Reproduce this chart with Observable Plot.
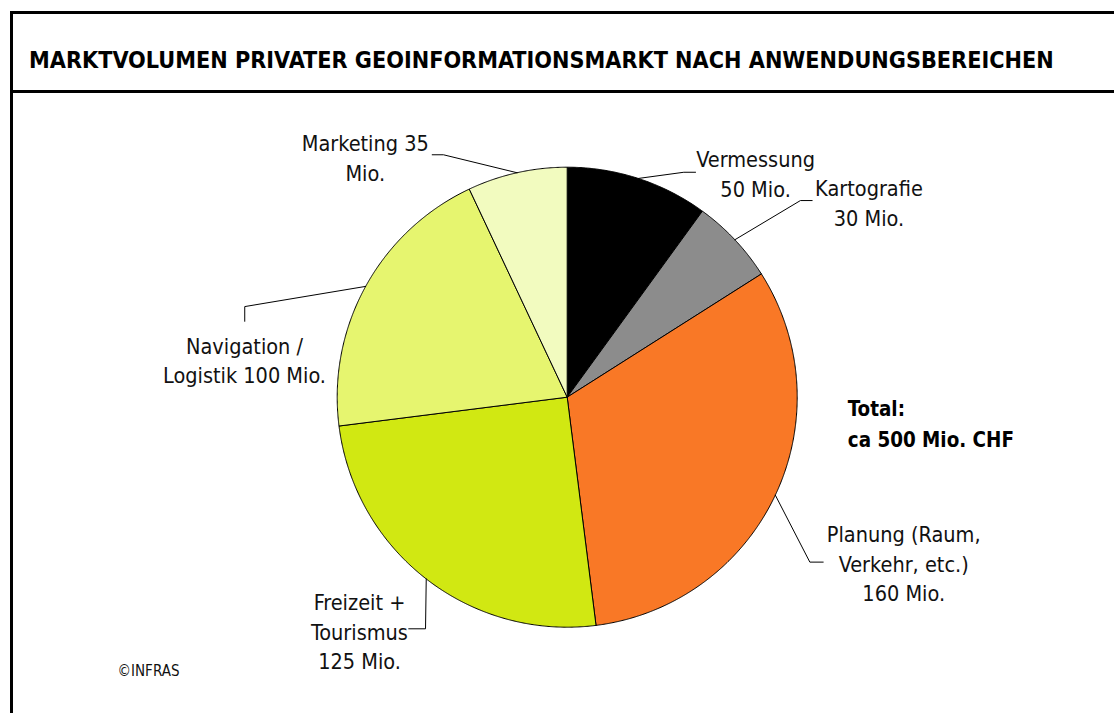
<!DOCTYPE html>
<html><head><meta charset="utf-8">
<script src="https://cdn.jsdelivr.net/npm/d3@7"></script>
<script src="https://cdn.jsdelivr.net/npm/@observablehq/plot@0.6"></script>
<style>
html,body{margin:0;padding:0;background:#fff;}
body{width:1114px;height:713px;overflow:hidden;position:relative;font-family:"DejaVu Sans Condensed","DejaVu Sans",sans-serif;font-stretch:condensed;}
#frame{position:absolute;left:10px;top:11px;right:0;bottom:0;border-top:3px solid #000;border-left:3px solid #000;}
#title{height:42px;padding:34px 0 0 16px;border-bottom:3px solid #000;font-weight:bold;font-size:23.2px;line-height:24px;white-space:nowrap;color:#000;}
#chart svg{display:block;}
</style></head>
<body><div id="frame"><div id="title">MARKTVOLUMEN PRIVATER GEOINFORMATIONSMARKT NACH ANWENDUNGSBEREICHEN</div><div id="chart"></div></div>
<script>
// ---- data ----
const categories = ["Vermessung", "Kartografie", "Planung", "Freizeit + Tourismus", "Navigation / Logistik", "Marketing"];
const values = [50, 30, 160, 125, 100, 35];
const labelTexts = ["Vermessung\n50 Mio.", "Kartografie\n30 Mio.", "Planung (Raum,\nVerkehr, etc.)\n160 Mio.", "Freizeit +\nTourismus\n125 Mio.", "Navigation /\nLogistik 100 Mio.", "Marketing 35\nMio."];
const totalText = "Total:\nca 500 Mio. CHF";
const sourceText = "©INFRAS";

// ---- styles / layout (pie radius = 1 unit, centre at 0,0) ----
const colors = ["#000000", "#8c8c8c", "#f97826", "#d1e812", "#e6f56f", "#f2fbbf"];
const labelPos = [[0.819, 0.977], [1.312, 0.850], [1.463, -0.718], [-0.903, -1.014], [-1.403, 0.166], [-0.878, 1.046]];
const leaderElbow = [[0.507, 0.978], [1.014, 0.855], [1.055, -0.717], [-0.616, -1.007], [-1.402, 0.394], [-0.538, 1.054]];
const leaderEnd = [[0.558, 0.978], [1.065, 0.855], [1.113, -0.717], [-0.689, -1.007], [-1.402, 0.330], [-0.587, 1.054]];
const totalPos = [1.220, -0.105];
const sourcePos = [-1.955, -1.193];

const arcs = d3.pie().sort(null).value(d => d)(values);
const slicePts = [];
arcs.forEach((a, i) => {
  const n = Math.max(4, Math.ceil((a.endAngle - a.startAngle) / 0.005));
  slicePts.push({cat: categories[i], x: 0, y: 0});
  for (let k = 0; k <= n; k++) {
    const t = a.startAngle + (a.endAngle - a.startAngle) * k / n;
    slicePts.push({cat: categories[i], x: Math.sin(t), y: Math.cos(t)});
  }
  slicePts.push({cat: categories[i], x: 0, y: 0});
});
const leaderPts = [];
arcs.forEach((a, i) => {
  const m = (a.startAngle + a.endAngle) / 2;
  leaderPts.push({cat: categories[i], x: Math.sin(m), y: Math.cos(m)});
  leaderPts.push({cat: categories[i], x: leaderElbow[i][0], y: leaderElbow[i][1]});
  leaderPts.push({cat: categories[i], x: leaderEnd[i][0], y: leaderEnd[i][1]});
});
const labels = categories.map((c, i) => ({cat: c, x: labelPos[i][0], y: labelPos[i][1], text: labelTexts[i]}));

const W = 1101, H = 620, R = 230, CX = 553.7, CY = 303.7;
const chart = Plot.plot({
  width: W, height: H, margin: 0,
  x: {domain: [-CX / R, (W - CX) / R], axis: null},
  y: {domain: [-(H - CY) / R, CY / R], axis: null},
  color: {domain: categories, range: colors},
  style: {fontFamily: "'DejaVu Sans Condensed','DejaVu Sans',sans-serif", background: "#fff", overflow: "visible"},
  marks: [
    Plot.line(slicePts, {x: "x", y: "y", z: "cat", fill: "cat", stroke: "#000", strokeWidth: 1, strokeLinejoin: "round"}),
    Plot.line(leaderPts, {x: "x", y: "y", z: "cat", stroke: "#000", strokeWidth: 1}),
    Plot.text(labels, {x: "x", y: "y", text: "text", textAnchor: "middle", lineAnchor: "middle", lineHeight: 1.372, fontSize: 21.5, fill: "#111"}),
    Plot.text([totalText], {x: () => totalPos[0], y: () => totalPos[1], text: d => d, textAnchor: "start", lineAnchor: "middle", lineHeight: 1.55, fontSize: 20.4, fontWeight: "bold", fill: "#000"}),
    Plot.text([sourceText], {x: () => sourcePos[0], y: () => sourcePos[1], text: d => d, textAnchor: "start", lineAnchor: "middle", fontSize: 15, fill: "#111"})
  ]
});
document.getElementById("chart").appendChild(chart);
</script>
</body></html>
